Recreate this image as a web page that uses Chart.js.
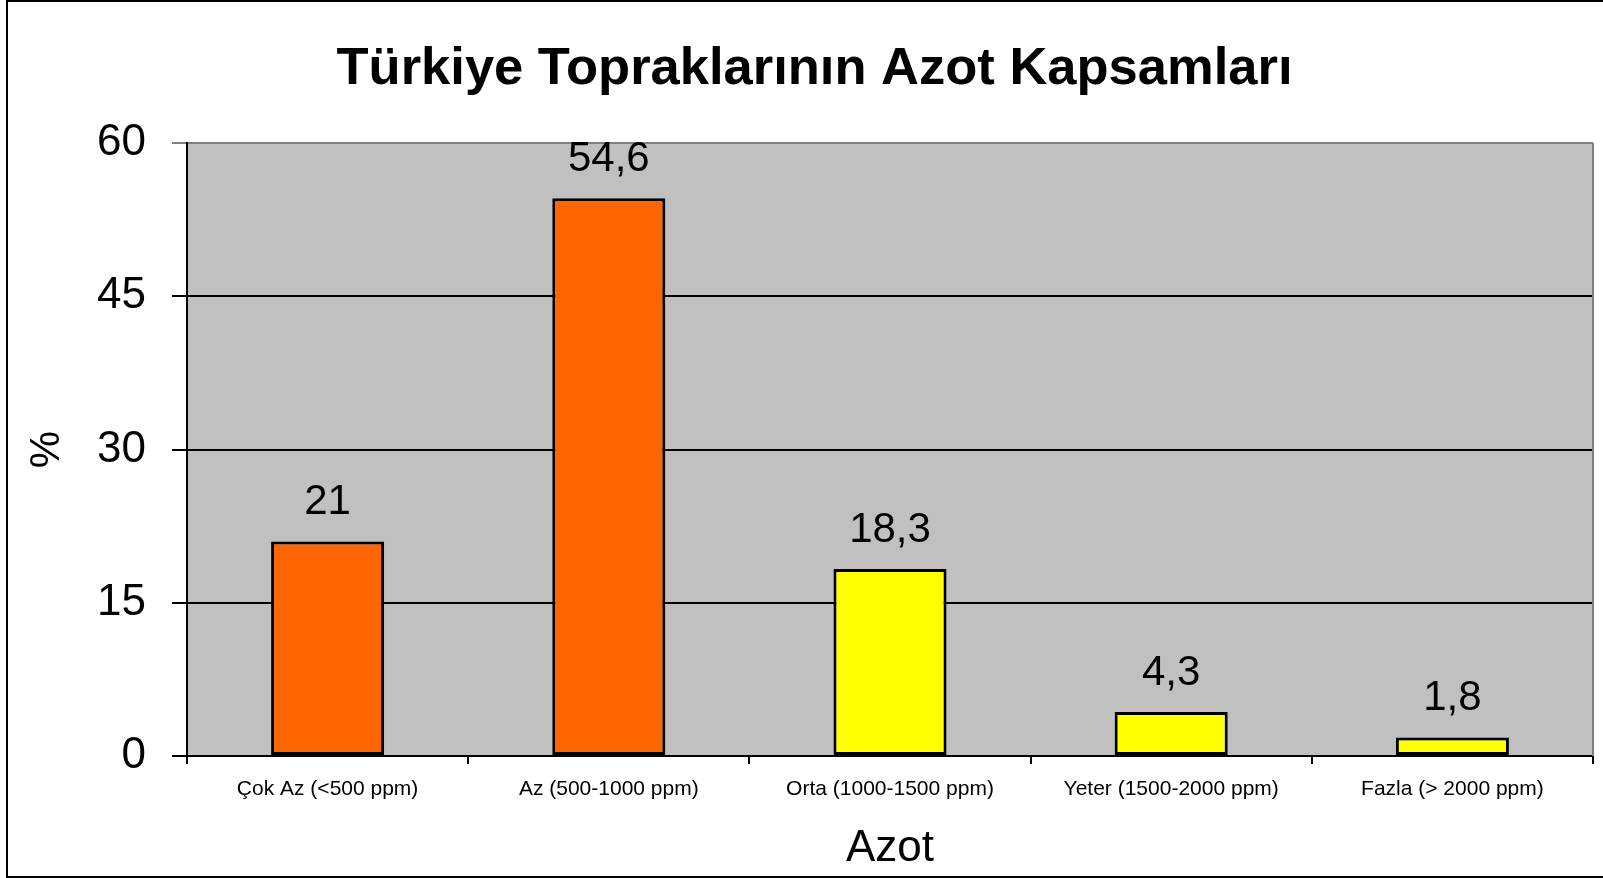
<!DOCTYPE html>
<html>
<head>
<meta charset="utf-8">
<script src="https://cdn.jsdelivr.net/npm/chart.js@4/dist/chart.umd.min.js"></script>
<style>
  html, body { margin: 0; padding: 0; background: #fff; }
  #wrap { width: 1603px; height: 878px; }
</style>
</head>
<body>
<div id="wrap"><canvas id="chart" width="1603" height="878"></canvas></div>
<script>
// Azot chart - soil nitrogen classes

const categories = [
  'Çok Az (<500 ppm)',
  'Az (500-1000 ppm)',
  'Orta (1000-1500 ppm)',
  'Yeter (1500-2000 ppm)',
  'Fazla (> 2000 ppm)'
];
const values = [21, 54.6, 18.3, 4.3, 1.8];
const barColors = ['#FF6600', '#FF6600', '#FFFF00', '#FFFF00', '#FFFF00'];
const yTicks = [0, 15, 30, 45, 60];

const FONT = "'Liberation Sans', Arial, sans-serif";

// gray plot background, gray top/right frame, outer black frame
const framePlugin = {
  id: 'frame',
  beforeDraw(chart) {
    const { ctx, chartArea: a } = chart;
    ctx.save();
    ctx.fillStyle = '#fff';
    ctx.fillRect(0, 0, chart.width, chart.height);
    ctx.fillStyle = '#C0C0C0';
    ctx.fillRect(a.left, a.top, a.right - a.left, a.bottom - a.top);
    ctx.restore();
  },
  afterDraw(chart) {
    const { ctx, chartArea: a } = chart;
    ctx.save();
    ctx.strokeStyle = '#808080';
    ctx.lineWidth = 2;
    ctx.beginPath();
    ctx.moveTo(a.right, a.top);
    ctx.lineTo(a.right, a.bottom);
    ctx.stroke();
    ctx.strokeStyle = '#000';
    ctx.lineWidth = 2;
    ctx.beginPath();
    ctx.moveTo(chart.width, 1);
    ctx.lineTo(7, 1);
    ctx.lineTo(7, 877);
    ctx.lineTo(chart.width, 877);
    ctx.stroke();
    ctx.restore();
  }
};

// value labels over the bars, decimal comma
const valueLabels = {
  id: 'valueLabels',
  afterDatasetsDraw(chart) {
    const { ctx } = chart;
    const meta = chart.getDatasetMeta(0);
    ctx.save();
    ctx.font = '42px ' + FONT;
    ctx.fillStyle = '#000';
    ctx.textAlign = 'center';
    ctx.textBaseline = 'middle';
    meta.data.forEach((bar, i) => {
      const txt = String(values[i]).replace('.', ',');
      ctx.fillText(txt, bar.x, bar.y - 39);
    });
    ctx.restore();
  }
};

const ctx = document.getElementById('chart').getContext('2d');
new Chart(ctx, {
  type: 'bar',
  data: {
    labels: categories,
    datasets: [{
      data: values,
      backgroundColor: barColors,
      borderColor: '#000',
      borderWidth: 3,
      borderSkipped: false,
      barPercentage: 0.402,
      categoryPercentage: 1
    }]
  },
  options: {
    responsive: false,
    animation: false,
    layout: { padding: { left: 36, right: 10, top: 0, bottom: 0 } },
    plugins: {
      legend: { display: false },
      tooltip: { enabled: false },
      title: {
        display: true,
        text: 'Türkiye Topraklarının Azot Kapsamları',
        color: '#000',
        font: { family: FONT, size: 52.5, weight: 'bold', lineHeight: 1.2 },
        padding: { top: 38, bottom: 42 }
      }
    },
    scales: {
      x: {
        grid: {
          offset: true,
          drawOnChartArea: false,
          drawTicks: true,
          tickLength: 8,
          color: '#000',
          lineWidth: 2
        },
        border: { color: '#000', width: 2 },
        ticks: {
          color: '#000',
          font: { family: FONT, size: 21 },
          padding: 13,
          maxRotation: 0,
          autoSkip: false
        },
        title: {
          display: true,
          text: 'Azot',
          color: '#000',
          font: { family: FONT, size: 44 },
          padding: { top: 0, bottom: 3 }
        },
        afterFit(scale) { scale.height = 122; }
      },
      y: {
        min: 0,
        max: 60,
        afterBuildTicks(scale) { scale.ticks = yTicks.map(v => ({ value: v })); },
        grid: {
          color: c => (c.tick && c.tick.value === 60 ? '#808080' : '#000'),
          lineWidth: 2,
          tickLength: 15
        },
        border: { color: '#000', width: 2 },
        ticks: {
          color: '#000',
          font: { family: FONT, size: 44 },
          padding: 26
        },
        title: {
          display: true,
          text: '%',
          color: '#000',
          font: { family: FONT, size: 42 },
          padding: { top: -14, bottom: 0 }
        },
        afterFit(scale) { scale.width = 151; }
      }
    }
  },
  plugins: [framePlugin, valueLabels]
});
</script>
</body>
</html>
